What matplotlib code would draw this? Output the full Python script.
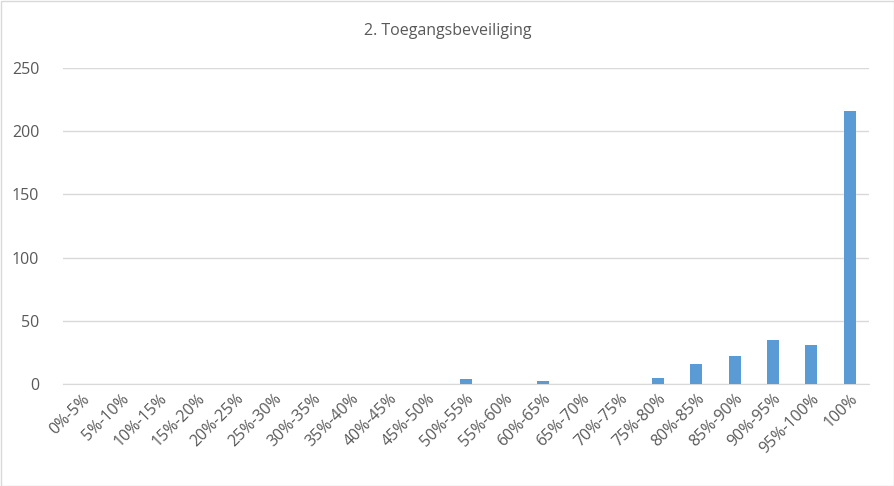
import matplotlib
matplotlib.use("Agg")
import matplotlib.pyplot as plt
from matplotlib.patches import Rectangle

categories = ["0%-5%","5%-10%","10%-15%","15%-20%","20%-25%","25%-30%","30%-35%","35%-40%",
              "40%-45%","45%-50%","50%-55%","55%-60%","60%-65%","65%-70%","70%-75%","75%-80%",
              "80%-85%","85%-90%","90%-95%","95%-100%","100%"]
values = [0,0,0,0,0,0,0,0,0,0,4,0,2,0,0,5,16,22,35,31,216]
yticks = [0,50,100,150,200,250]

plt.rcParams['font.family'] = ['Open Sans', 'DejaVu Sans']
fig = plt.figure(figsize=(8.95,4.86), dpi=100)
ax = fig.add_axes([63/895, 1-384/486, (869-63)/895, 316/486])
ax.bar(range(len(categories)), values, width=0.31, color='#5b9bd5', zorder=3)
ax.set_xlim(-0.5, len(categories)-0.5)
ax.set_ylim(0, 250)
ax.set_yticks(yticks)
ax.set_xticks(range(len(categories)))
ax.set_xticklabels(categories, rotation=45, ha='right', rotation_mode='anchor')
ax.tick_params(colors='#595959', labelsize=11.5, length=0)
ax.tick_params(axis='y', pad=17)
ax.tick_params(axis='x', pad=5)
ax.grid(axis='y', color='#d9d9d9', linewidth=1, zorder=0)
for s in ['top','right','left']:
    ax.spines[s].set_visible(False)
ax.spines['bottom'].set_color('#d9d9d9')
fig.text(0.5, 1-31/486, "2. Toegangsbeveiliging", ha='center', va='center', fontsize=11.5, color='#595959')
fig.patches.append(Rectangle((0.001,0.001),0.998,0.997, transform=fig.transFigure, fill=False, edgecolor='#d9d9d9', linewidth=1))
fig.savefig("out.png", dpi=100)
